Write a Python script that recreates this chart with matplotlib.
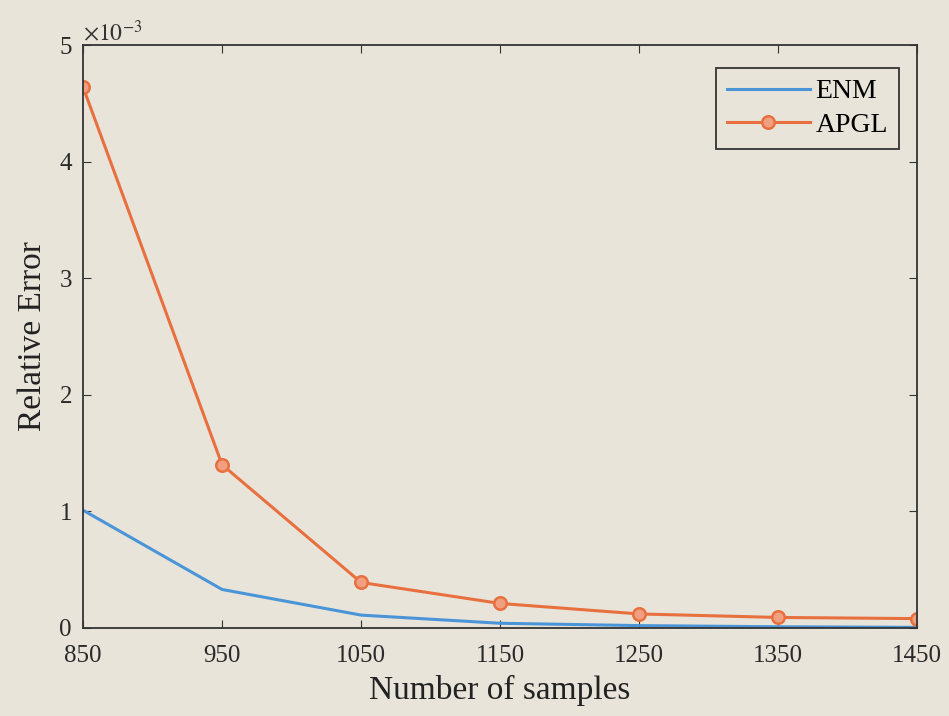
import numpy as np
import matplotlib.pyplot as plt

rcparams = {"font.family": ["Liberation Serif", "DejaVu Serif"],
            "mathtext.fontset": "stix",
            "font.size": 18,
            "xtick.top": True,
            "xtick.direction": "in",
            "xtick.major.size": 6,
            "ytick.right": True,
            "ytick.direction": "in",
            "ytick.major.size": 6}
plt.rcParams.update(rcparams)

# Data (relative error, x 1e-3)
samples = [850, 950, 1050, 1150, 1250, 1350, 1450]
enm = [1.01, 0.33, 0.11, 0.04, 0.02, 0.01, 0.005]
apgl = [4.64, 1.40, 0.39, 0.21, 0.12, 0.09, 0.08]

bg = '#e9e4da'
fig = plt.figure(figsize=(9.49, 7.16), dpi=100, facecolor=bg)
ax = fig.add_axes([0.0875, 0.123, 0.879, 0.814])
ax.set_facecolor(bg)

ax.plot(samples, enm, '-', color='#4a95d8', lw=2.2, label='ENM')
ax.plot(samples, apgl, '-', color='#e8703f', lw=2.2, marker='o', ms=9,
        mfc='#f0a080', mew=1.8, label='APGL')

ax.set_xlim(850, 1450)
ax.set_ylim(0, 5)
ax.set_xticks(samples)
ax.set_yticks([0, 1, 2, 3, 4, 5])
for s in ax.spines.values():
    s.set_color('#333333')
    s.set_linewidth(1.3)
ax.tick_params(colors='#333333', labelcolor='#2a2a2a', labelsize=18)
ax.tick_params(axis='x', pad=12)
ax.tick_params(axis='y', pad=8)

ax.text(0.0, 1.0, r'$\times10^{-3}$', transform=ax.transAxes,
        fontsize=17, color='#333333', ha='left', va='bottom')

ax.set_xlabel('Number of samples', fontsize=24, labelpad=6, color='#222222')
ax.set_ylabel('Relative Error', fontsize=24, labelpad=8, color='#222222')
leg = ax.legend(loc='upper right', fontsize=20, fancybox=False,
                edgecolor='#333333', facecolor=bg, framealpha=1,
                handlelength=3, handletextpad=0.2, borderpad=0.4,
                labelspacing=0.3, bbox_to_anchor=(0.995, 0.985))
leg.get_frame().set_linewidth(1.3)

plt.savefig('out.png', dpi=100, facecolor=bg)
